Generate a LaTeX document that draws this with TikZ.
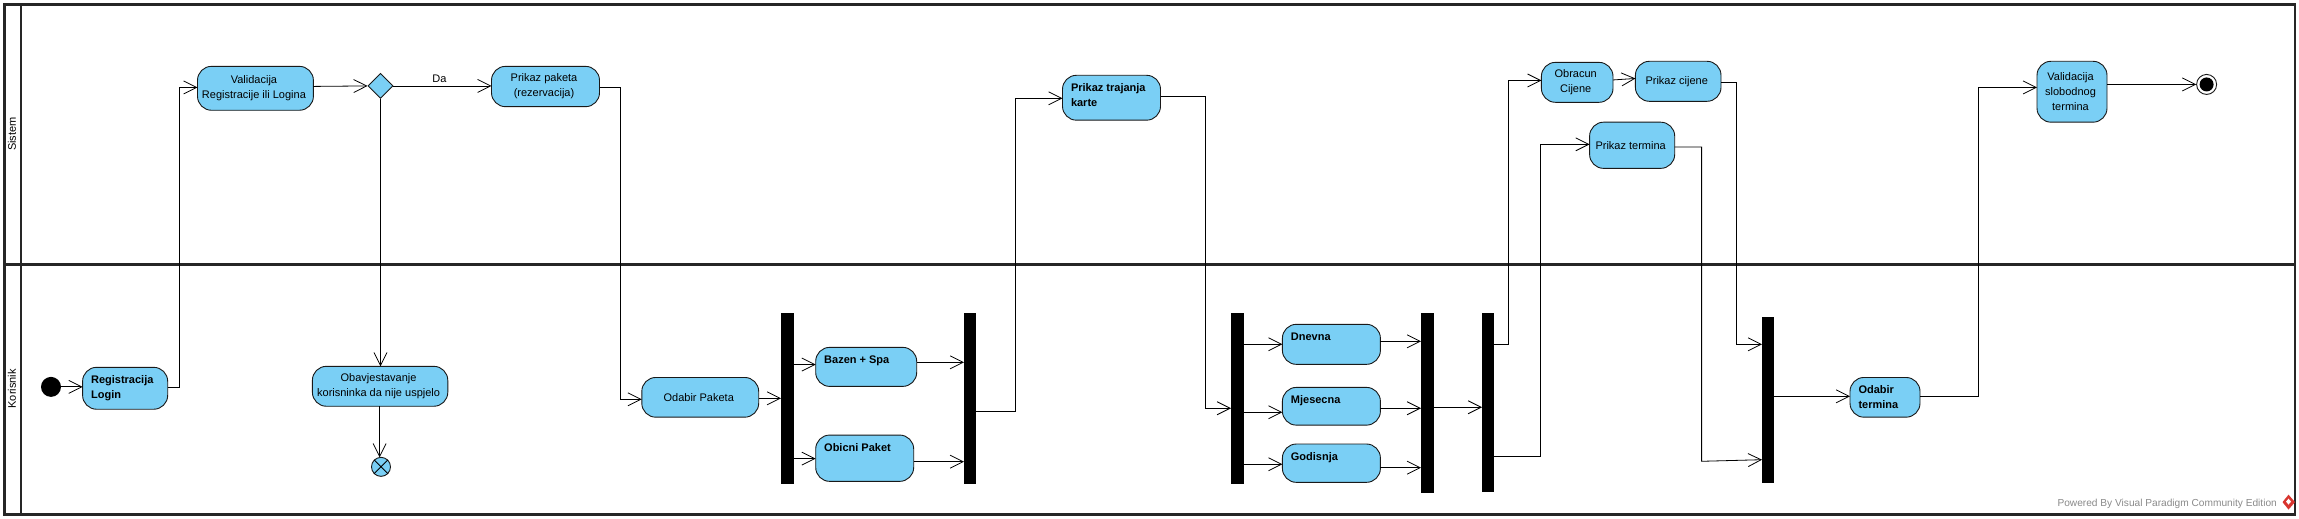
\documentclass[tikz,border=0pt]{standalone}
\usepackage{fontspec}
\setmainfont{Liberation Sans}
\usetikzlibrary{arrows.meta,shapes.geometric}
\definecolor{actfill}{HTML}{7ACFF5}
\definecolor{wm}{HTML}{8A8A8A}
\definecolor{logored}{HTML}{D8352F}
\newcommand{\lnfont}{\fontsize{11}{15}\selectfont}
% centred action: name, x1, y1, x2, y2, text
\newcommand{\actc}[6]{%
  \pgfmathsetmacro{\bw}{#4-#2}\pgfmathsetmacro{\bh}{(#5-#3)*0.9933}%
  \node[act,minimum width=\bw pt,minimum height=\bh pt,anchor=north west] (#1) at (#2,#3)
    {\parbox{\dimexpr\bw pt-3pt\relax}{\centering\lnfont #6}\kern3pt};}
% top-left bold action
\newcommand{\actl}[6]{%
  \pgfmathsetmacro{\bw}{#4-#2}\pgfmathsetmacro{\bh}{(#5-#3)*0.9933}%
  \node[act,minimum width=\bw pt,minimum height=\bh pt,anchor=north west] (#1) at (#2,#3)
    {\parbox[c][\bh pt][t]{\bw pt}{\vspace*{6pt}\lnfont\bfseries\leftskip=8.5pt\rightskip=0pt plus 1fil\parindent=0pt\strut #6}};}
% synchronisation bar
\newcommand{\syncbar}[5]{%
  \pgfmathsetmacro{\bw}{#4-#2}\pgfmathsetmacro{\bh}{(#5-#3)*0.9933}%
  \node[syncb,minimum width=\bw pt,minimum height=\bh pt,anchor=north west] (#1) at (#2,#3) {};}
\tikzset{
  act/.style={draw=black!90,line width=0.9pt,fill=actfill,rounded corners=14pt,inner sep=0pt,outer sep=0pt,rectangle},
  syncb/.style={fill=black,draw=none,inner sep=0pt,outer sep=0pt,rectangle},
  flow/.style={line width=0.8pt,-{Straight Barb[length=13pt,width=13pt,line width=0.8pt]}},
  lane/.style={draw=black!85,line width=2.6pt},
  txt/.style={inner sep=0pt,font=\fontsize{11}{15}\selectfont}
}
\begin{document}
\begin{tikzpicture}[x=1pt,y=-0.9933pt]
\useasboundingbox (0,0) rectangle (2299,522.5);
\fill[white] (0,0) rectangle (2299,522.5);
% swimlanes
\draw[lane] (4.5,4.5) rectangle (2295,518);
\draw[lane] (4.5,266) -- (2295,266);
\draw[lane] (21,4.5) -- (21,518);
\node[txt,rotate=90] (sistem) at (12,135) {Sistem};
\node[txt,rotate=90] (korisnik) at (12,391.5) {Korisnik};
% actions
\actc{val}{197.5}{66.8}{313.4}{111}{Validacija\\Registracije ili Logina}
\actc{ppaket}{491.5}{66.8}{599.5}{107.4}{Prikaz paketa\\(rezervacija)}
\actl{reg}{82.6}{369.8}{167.7}{412}{Registracija\\Login}
\actc{obav}{312.4}{368.8}{447.8}{409}{Obavjestavanje\\korisninka da nije uspjelo}
\actc{odp}{641.8}{380}{758.7}{420}{Odabir Paketa}
\actl{baz}{815.7}{349.7}{916.7}{389}{Bazen + Spa}
\actl{obi}{815.7}{438}{913.7}{484.6}{Obicni Paket}
\actl{ptr}{1062.5}{75.8}{1160.5}{121}{Prikaz trajanja\\karte}
\actl{dne}{1282.4}{326.5}{1380.4}{366.8}{Dnevna}
\actl{mje}{1282.4}{390}{1380.4}{428}{Mjesecna}
\actl{god}{1282.4}{447}{1380.4}{485.6}{Godisnja}
\actc{obr}{1541.4}{62.8}{1613}{103}{Obracun\\Cijene}
\actc{pci}{1635.4}{61.7}{1721}{102}{Prikaz cijene}
\actc{pte}{1589.6}{123}{1674.7}{169.5}{Prikaz termina}
\actl{odt}{1850}{380}{1920}{420}{Odabir\\termina}
\actc{vsl}{2037}{61.7}{2107}{123}{Validacija\\slobodnog\\termina}
% bars
\syncbar{b1}{781}{315}{794}{487}
\syncbar{b2}{964}{315}{976}{487}
\syncbar{b3}{1231}{315}{1244}{487}
\syncbar{b4}{1421}{315}{1434}{496}
\syncbar{b5}{1482}{315}{1494}{495}
\syncbar{b6}{1762}{319}{1774}{486}
% special nodes
\node[circle,fill=black,minimum size=20pt,inner sep=0pt] (init) at (51,389.5) {};
\node[draw=black!90,line width=0.9pt,fill=actfill,minimum width=25pt,minimum height=25pt,inner sep=0pt,shape aspect=1,diamond] (dec) at (380.5,86.5) {};
\node[circle,draw=black!90,line width=0.9pt,fill=actfill,minimum size=19pt,inner sep=0pt] (ff) at (381,470) {};
\draw[line width=0.9pt] (ff.45) -- (ff.225) (ff.135) -- (ff.315);
\node[circle,draw=black!90,line width=0.9pt,fill=white,minimum size=20pt,inner sep=0pt] (fin) at (2206.6,85) {};
\node[circle,fill=black,minimum size=14pt,inner sep=0pt] (fini) at (fin.center) {};
% connectors
\draw[flow] (init.east) -- (reg.west |- init.east);
\draw[flow] (reg.east |- 0,390) -- (179.6,390) -- (179.6,88) -- (val.west |- 0,88);
\draw[flow] (val.east |- 0,87) -- (dec.west);
\draw[flow] (dec.east) -- (ppaket.west |- dec.east) node[midway,above=3pt,xshift=-3pt,txt] (da) {Da};
\draw[flow] (dec.south) -- (obav.north -| dec.south);
\draw[flow] (obav.south -| 379.6,0) -- (379.6,460.5);
\draw[flow] (ppaket.east |- 0,88) -- (620.4,88) -- (620.4,402) -- (odp.west |- 0,402);
\draw[flow] (odp.east |- 0,401) -- (b1.west |- 0,401);
\draw[flow] (b1.east |- 0,367) -- (baz.west |- 0,367);
\draw[flow] (b1.east |- 0,461.7) -- (obi.west |- 0,461.7);
\draw[flow] (baz.east |- 0,364.8) -- (b2.west |- 0,364.8);
\draw[flow] (obi.east |- 0,464.8) -- (b2.west |- 0,464.8);
\draw[flow] (b2.east |- 0,414.4) -- (1015.7,414.4) -- (1015.7,99) -- (ptr.west |- 0,99);
\draw[flow] (ptr.east |- 0,97) -- (1205,97) -- (1205,411) -- (b3.west |- 0,411);
\draw[flow] (b3.east |- 0,346.6) -- (dne.west |- 0,346.6);
\draw[flow] (b3.east |- 0,415) -- (mje.west |- 0,415);
\draw[flow] (b3.east |- 0,467.4) -- (god.west |- 0,467.4);
\draw[flow] (dne.east |- 0,343.6) -- (b4.west |- 0,343.6);
\draw[flow] (mje.east |- 0,411) -- (b4.west |- 0,411);
\draw[flow] (god.east |- 0,470.8) -- (b4.west |- 0,470.8);
\draw[flow] (b4.east |- 0,410) -- (b5.west |- 0,410);
\draw[flow] (b5.east |- 0,346.6) -- (1508.8,346.6) -- (1508.8,81) -- (obr.west |- 0,81);
\draw[flow] (b5.east |- 0,459.4) -- (1540.4,459.4) -- (1540.4,145.3) -- (pte.west |- 0,145.3);
\draw[flow] (obr.east |- 0,80.5) -- (pci.west |- 0,79);
\draw[flow] (pci.east |- 0,83) -- (1736,83) -- (1736,346.6) -- (b6.west |- 0,346.6);
\draw[flow] (pte.east |- 0,148) -- (1701.6,148) -- (1701.6,464.4) -- (b6.west |- 0,462.8);
\draw[flow] (b6.east |- 0,399) -- (odt.west |- 0,399);
\draw[flow] (odt.east |- 0,399) -- (1978,399) -- (1978,88) -- (vsl.west |- 0,88);
\draw[flow] (vsl.east |- 0,85) -- (fin.west);
% watermark
\node[anchor=east,inner sep=0pt,text=wm,font=\fontsize{10.15}{12}\selectfont] (wmk) at (2277,507) {Powered By Visual Paradigm Community Edition};
\fill[logored] (2288.5,498) -- (2295,505.5) -- (2288.5,513) -- (2282.5,505.5) -- cycle;
\fill[white] (2288.5,502) -- (2291,505) -- (2288.5,508) -- (2286,505) -- cycle;
\end{tikzpicture}
\end{document}
